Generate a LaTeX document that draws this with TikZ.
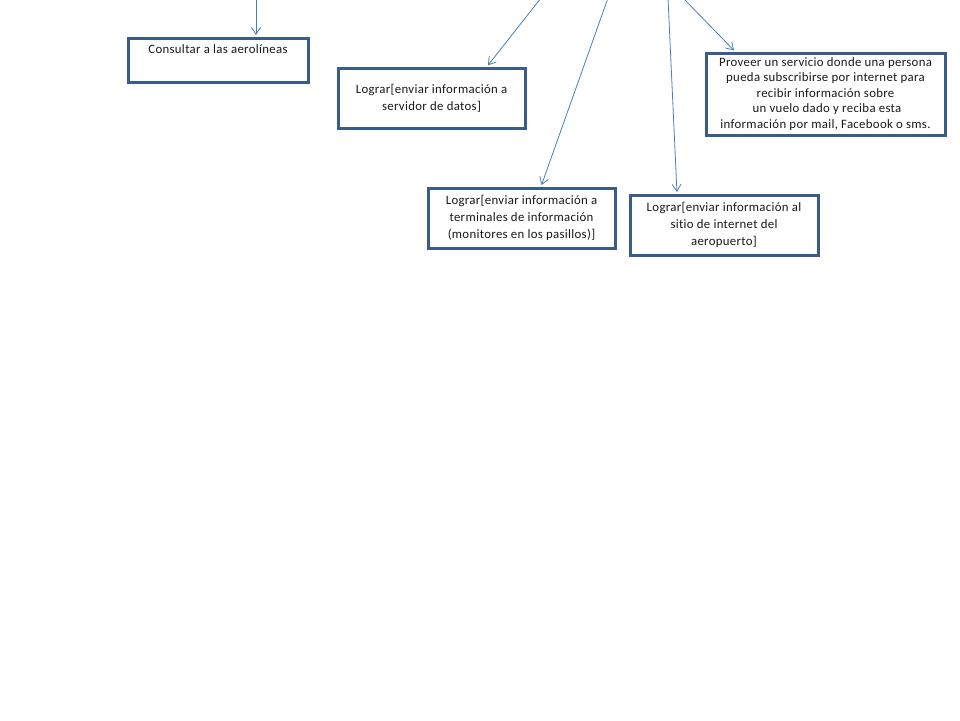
\documentclass[tikz,border=0pt]{standalone}
\usepackage{fontspec}
\setmainfont{Carlito}[LetterSpace=2.5, Ligatures={NoCommon}]
\usetikzlibrary{arrows.meta}
\definecolor{boxline}{HTML}{385D8A}
\definecolor{arrowc}{HTML}{4A7EBB}
\begin{document}
\begin{tikzpicture}[x=1pt,y=-1pt,
  goal/.style={draw=boxline, line width=3pt, fill=white, align=center,
    inner sep=0pt, font=\fontsize{12.8}{17}\selectfont, text=black!90},
  conn/.style={draw=arrowc, line width=0.8pt,
    -{Straight Barb[length=7pt,width=9pt,line width=0.8pt]}, shorten >=1.5pt}]
\useasboundingbox[fill=white] (0,0) rectangle (960,720);
\node[goal, minimum width=180pt, minimum height=44pt] (A) at (218,60)
  {Consultar a las aerolíneas\\ \strut};
\node[goal, minimum width=187pt, minimum height=60pt] (B) at (431.5,98)
  {Lograr[enviar información a\\servidor de datos]};
\node[goal, minimum width=187pt, minimum height=60pt] (C) at (521.5,218)
  {Lograr[enviar información a\\terminales de información\\(monitores en los pasillos)]};
\node[goal, minimum width=188pt, minimum height=60pt] (D) at (724,225)
  {Lograr[enviar información al\\sitio de internet del\\aeropuerto]};
\node[goal, minimum width=239pt, minimum height=82pt,
  font=\fontsize{12.8}{15.5}\selectfont] (E) at (825.5,94)
  {Proveer un servicio donde una persona\\pueda subscribirse por internet para\\recibir información sobre\\\hspace*{3pt}un vuelo dado y reciba esta\\información por mail, Facebook o sms.};
\coordinate (s1) at (256,-2);
\coordinate (s2) at (541,-2);
\coordinate (s3) at (608,-2);
\coordinate (s4) at (668,-2);
\coordinate (s5) at (683,-2);
\draw[conn] (s1) -- ([xshift=38pt]A.north);
\draw[conn] (s2) -- ([xshift=55.5pt]B.north);
\draw[conn] (s3) -- ([xshift=19.5pt]C.north);
\draw[conn] (s4) -- ([xshift=-47pt]D.north);
\draw[conn] (s5) -- ([xshift=-90.5pt]E.north);
\end{tikzpicture}
\end{document}
